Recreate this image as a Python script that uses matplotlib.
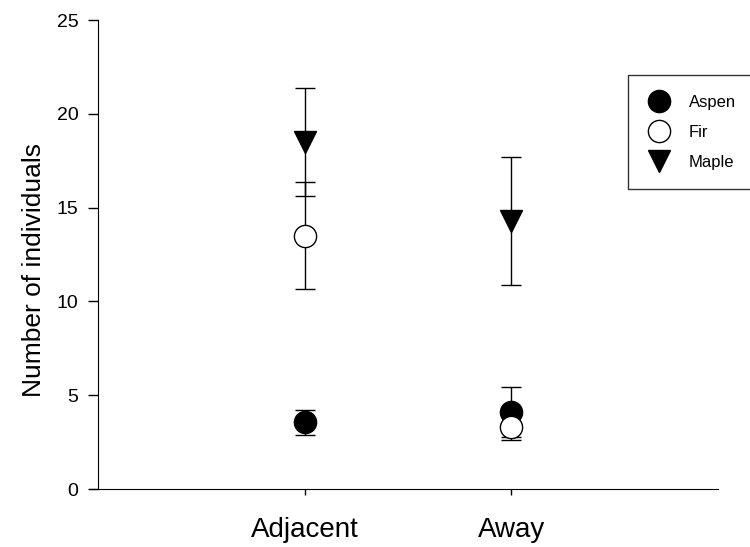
import matplotlib.pyplot as plt
from matplotlib.lines import Line2D

plt.rcParams['font.family'] = ['Liberation Sans', 'DejaVu Sans']

sites = ["Adjacent", "Away"]
aspen_mean = [3.55, 4.1]
aspen_err = [0.65, 1.35]
fir_mean = [13.5, 3.3]
fir_err = [2.85, 0.7]
maple_mean = [18.5, 14.3]
maple_err = [2.9, 3.4]

x = [1, 2]

fig = plt.figure(figsize=(7.5, 5.47), dpi=100)
ax = fig.add_axes([0.1307, 0.106, 0.8266, 0.8574])

ax.errorbar(x, aspen_mean, yerr=aspen_err, fmt='o', color='black', mfc='black',
            mec='black', ms=16, capsize=7, elinewidth=1, capthick=1, zorder=3)
ax.errorbar(x, fir_mean, yerr=fir_err, fmt='o', color='black', mfc='white',
            mec='black', ms=16, capsize=7, elinewidth=1, capthick=1, zorder=4)
ax.errorbar(x, maple_mean, yerr=maple_err, fmt='v', color='black', mfc='black',
            mec='black', ms=16, capsize=7, elinewidth=1, capthick=1, zorder=5)

ax.set_xlim(0, 3)
ax.set_ylim(0, 25)
ax.set_xticks(x)
ax.set_xticklabels(sites, fontsize=20)
ax.set_yticks([0, 5, 10, 15, 20, 25])
ax.tick_params(axis='y', labelsize=14, direction='out', length=7, width=1, pad=7)
ax.tick_params(axis='x', direction='out', length=4, width=1, pad=16)
ax.set_ylabel("Number of individuals", fontsize=19)
ax.yaxis.set_label_coords(-0.084, 0.467)

ax.spines['top'].set_visible(False)
ax.spines['right'].set_visible(False)
ax.spines['bottom'].set_bounds(-0.04, 3)

handles = [
    Line2D([], [], ls='none', marker='o', ms=16, mfc='black', mec='black'),
    Line2D([], [], ls='none', marker='o', ms=16, mfc='white', mec='black'),
    Line2D([], [], ls='none', marker='v', ms=16, mfc='black', mec='black'),
]
leg = ax.legend(handles, ["Aspen", "Fir", "Maple"], loc='upper left',
                bbox_to_anchor=(0.855, 0.882), fontsize=12, frameon=True,
                fancybox=False, edgecolor='black', handletextpad=1.1,
                borderpad=1.15, labelspacing=0.9, handlelength=1.4,
                borderaxespad=0)
leg.get_frame().set_linewidth(1)

fig.savefig("out.png", dpi=100)
